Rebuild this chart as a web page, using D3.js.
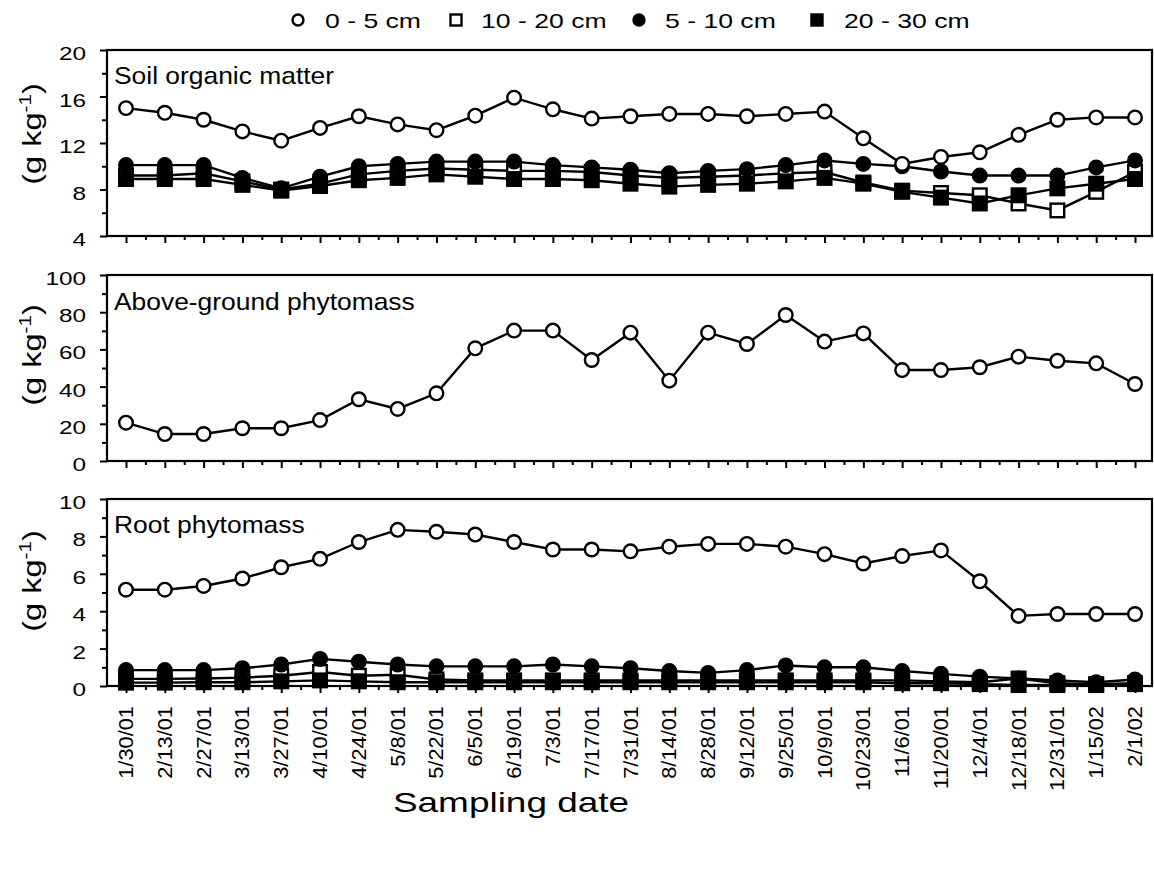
<!DOCTYPE html>
<html><head><meta charset="utf-8">
<script src="https://cdn.jsdelivr.net/npm/d3@7"></script>
<style>body{margin:0;background:#fff}svg text{font-family:"Liberation Sans",Arial,Helvetica,sans-serif;fill:#000}</style>
</head><body><svg id="c" width="1154" height="872"></svg>
<script>
// ---------- data ----------
const dates = ["1/30/01","2/13/01","2/27/01","3/13/01","3/27/01","4/10/01","4/24/01","5/8/01","5/22/01","6/5/01","6/19/01","7/3/01","7/17/01","7/31/01","8/14/01","8/28/01","9/12/01","9/25/01","10/9/01","10/23/01","11/6/01","11/20/01","12/4/01","12/18/01","12/31/01","1/15/02","2/1/02"];
const legendLabels = ["0 - 5 cm","10 - 20 cm","5 - 10 cm","20 - 30 cm"];
const panelTitles = ["Soil organic matter","Above-ground phytomass","Root phytomass"];
const xTitle = "Sampling date";

// Soil organic matter (g kg-1)
const som0_5   = [15.0,14.6,14.0,13.0,12.2,13.3,14.3,13.6,13.1,14.35,15.9,14.9,14.1,14.3,14.5,14.5,14.3,14.5,14.7,12.4,10.2,10.8,11.2,12.7,14.0,14.2,14.2];
const som5_10  = [10.1,10.1,10.1,9.0,8.1,9.1,10.0,10.2,10.4,10.4,10.4,10.1,9.9,9.7,9.4,9.6,9.75,10.1,10.5,10.2,10.0,9.55,9.2,9.2,9.2,9.9,10.5];
const som10_20 = [9.2,9.2,9.4,8.7,8.0,8.5,9.3,9.6,9.8,9.7,9.6,9.6,9.5,9.2,9.0,9.1,9.2,9.4,9.5,8.6,7.9,7.7,7.5,6.8,6.2,7.8,9.5];
const som20_30 = [8.9,8.9,8.9,8.4,7.9,8.3,8.8,9.0,9.3,9.1,8.9,8.9,8.8,8.5,8.25,8.4,8.5,8.7,9.0,8.5,7.8,7.3,6.8,7.5,8.1,8.5,8.9];
// Above-ground phytomass (g kg-1)
const above0_5 = [20.6,14.5,14.5,17.6,17.6,22.0,33.2,28.0,36.4,60.6,70.1,70.1,54.3,69.0,43.2,69.0,62.9,78.5,64.2,68.6,48.9,48.9,50.4,56.1,53.9,52.5,41.4];
// Root phytomass (g kg-1)
const root0_5   = [5.15,5.15,5.35,5.75,6.35,6.8,7.7,8.35,8.25,8.1,7.7,7.3,7.3,7.2,7.45,7.6,7.6,7.45,7.05,6.55,6.95,7.25,5.6,3.75,3.85,3.85,3.85];
const root5_10  = [0.85,0.85,0.85,0.95,1.15,1.45,1.3,1.15,1.05,1.05,1.05,1.15,1.05,0.95,0.8,0.7,0.85,1.1,1.0,1.0,0.8,0.65,0.5,0.4,0.3,0.2,0.35];
const root10_20 = [0.38,0.38,0.4,0.45,0.55,0.75,0.55,0.6,0.35,0.3,0.3,0.3,0.3,0.3,0.3,0.3,0.3,0.3,0.3,0.3,0.3,0.25,0.2,0.4,0.15,0.1,0.15];
const root20_30 = [0.18,0.18,0.2,0.2,0.25,0.3,0.25,0.2,0.2,0.2,0.2,0.2,0.2,0.2,0.2,0.2,0.2,0.2,0.2,0.2,0.15,0.15,0.1,0.05,0.05,0.05,0.1];

const somTicks = [4,8,12,16,20], somMinor = [6,10,14,18];
const aboveTicks = [0,20,40,60,80,100], aboveMinor = [10,30,50,70,90];
const rootTicks = [0,2,4,6,8,10], rootMinor = [1,3,5,7,9];

// ---------- layout ----------
const svg = d3.select("#c");
const L = 107, R = 1152;
const x = d3.scalePoint().domain(dates).range([126, 1135]);
const xi = d3.scaleLinear().domain([0, dates.length - 1]).range([126, 1135]);

function stext(g, px, py, txt, size, sx, anchor, rot) {
  return g.append("text")
    .attr("transform", `translate(${px},${py})` + (rot ? ` rotate(${rot})` : "") + ` scale(${sx},1)`)
    .attr("text-anchor", anchor || "start")
    .attr("font-size", size)
    .text(txt);
}

const panels = [
  {top: 50, bot: 236, dom: [4, 20], ticks: somTicks, minor: somMinor, title: panelTitles[0], titleY: 84, yTitleC: 134,
   series: [{v: som10_20, t: "osq"}, {v: som20_30, t: "fsq"}, {v: som5_10, t: "fci"}, {v: som0_5, t: "oci"}]},
  {top: 275, bot: 461, dom: [0, 100], ticks: aboveTicks, minor: aboveMinor, title: panelTitles[1], titleY: 310, yTitleC: 355,
   series: [{v: above0_5, t: "oci"}]},
  {top: 499, bot: 686, dom: [0, 10], ticks: rootTicks, minor: rootMinor, title: panelTitles[2], titleY: 533, yTitleC: 581,
   series: [{v: root10_20, t: "osq"}, {v: root20_30, t: "fsq"}, {v: root5_10, t: "fci"}, {v: root0_5, t: "oci"}]}
];

function marker(g, t, cx, cy, r) {
  if (t === "oci" || t === "fci") {
    g.append("circle").attr("cx", cx).attr("cy", cy).attr("r", r)
      .attr("fill", t === "oci" ? "#fff" : "#000").attr("stroke", "#000").attr("stroke-width", 2.4);
  } else {
    const s = r * 2;
    g.append("rect").attr("x", cx - s / 2).attr("y", cy - s / 2).attr("width", s).attr("height", s)
      .attr("fill", t === "osq" ? "#fff" : "#000").attr("stroke", "#000").attr("stroke-width", 2.4);
  }
}

panels.forEach(p => {
  const y = d3.scaleLinear().domain(p.dom).range([p.bot, p.top]);
  const g = svg.append("g");

  // y ticks
  g.append("g").attr("transform", `translate(${L},0)`)
    .call(d3.axisLeft(y).tickValues(p.ticks).tickSize(7).tickSizeOuter(0).tickFormat(""))
    .call(a => a.select(".domain").remove())
    .call(a => a.selectAll("line").attr("stroke", "#000").attr("stroke-width", 2));
  g.append("g").attr("transform", `translate(${L},0)`)
    .call(d3.axisLeft(y).tickValues(p.minor).tickSize(5).tickSizeOuter(0).tickFormat(""))
    .call(a => a.select(".domain").remove())
    .call(a => a.selectAll("line").attr("stroke", "#000").attr("stroke-width", 2));
  p.ticks.forEach(v => stext(g, 86, y(v) + 10, String(v), 19, 1.28, "end"));

  // x ticks
  g.append("g").attr("transform", `translate(0,${p.bot})`)
    .call(d3.axisBottom(x).tickSize(7).tickSizeOuter(0).tickFormat(""))
    .call(a => a.select(".domain").remove())
    .call(a => a.selectAll("line").attr("stroke", "#000").attr("stroke-width", 2));
  g.append("g").attr("transform", `translate(0,${p.bot})`)
    .call(d3.axisBottom(xi).tickValues(d3.range(0.5, dates.length - 1, 1)).tickSize(4).tickSizeOuter(0).tickFormat(""))
    .call(a => a.select(".domain").remove())
    .call(a => a.selectAll("line").attr("stroke", "#000").attr("stroke-width", 2));

  // frame
  g.append("rect").attr("x", L).attr("y", p.top).attr("width", R - L).attr("height", p.bot - p.top)
    .attr("fill", "none").attr("stroke", "#000").attr("stroke-width", 2.2);

  // panel title
  stext(g, 114, p.titleY, p.title, 24, 1.1, "start");

  // y title (g kg-1)
  const yt = g.append("text")
    .attr("transform", `translate(41,${p.yTitleC}) rotate(-90) scale(1.3,1)`)
    .attr("text-anchor", "middle").attr("font-size", 25);
  yt.append("tspan").text("(g kg");
  yt.append("tspan").attr("font-size", 16).attr("dy", -10).text("-1");
  yt.append("tspan").attr("dy", 10).text(")");

  // lines
  const line = d3.line().x((d, i) => x(dates[i])).y(d => y(d));
  p.series.forEach(s => {
    g.append("path").datum(s.v).attr("d", line).attr("fill", "none").attr("stroke", "#000").attr("stroke-width", 2.4);
  });
  p.series.forEach(s => {
    s.v.forEach((v, i) => marker(g, s.t, x(dates[i]), y(v), 6.8));
  });
});

// x tick labels
const lg = svg.append("g");
dates.forEach(d => stext(lg, x(d) + 7, 706, d, 19.5, 1.12, "end", -90));
stext(lg, 511, 812, xTitle, 28, 1.32, "middle");

// legend
const legTypes = ["oci", "osq", "fci", "fsq"];
const legMarkX = [298, 456, 639, 817];
const legTextX = [325, 481, 665, 844];
legendLabels.forEach((t, i) => {
  marker(lg, legTypes[i], legMarkX[i], 20, 5.5);
  stext(lg, legTextX[i], 28, t, 20, 1.33, "start");
});
</script></body></html>
